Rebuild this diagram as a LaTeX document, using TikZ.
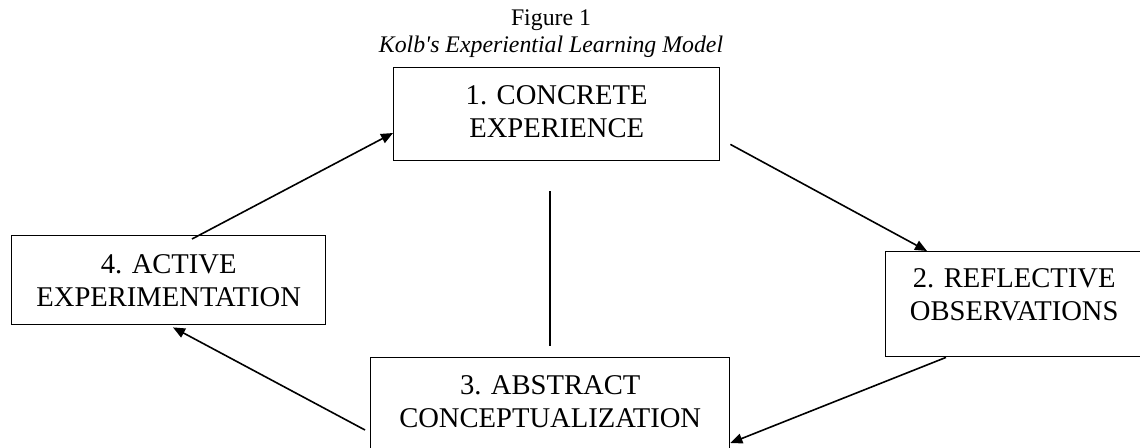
\documentclass[tikz,border=0pt]{standalone}
\usepackage{fontspec}
\setmainfont{Liberation Serif}
\usetikzlibrary{arrows.meta, positioning}

\begin{document}
\begin{tikzpicture}[
    x=1pt, y=-1pt,
    stage/.style={rectangle, draw, line width=1.4pt, inner sep=4pt, align=center, anchor=north west, font=\fontsize{28.6}{33}\selectfont},
    cycarrow/.style={-{Triangle[length=12pt,width=10pt]}, line width=1.6pt},
    link/.style={line width=1.6pt}
]
\clip (0,0) rectangle (1140,447);

\node[anchor=north, inner sep=0pt, align=center, font=\fontsize{23.8}{26.5}\selectfont] (title) at (551,10) {Figure 1\\\textit{Kolb\textquotesingle s Experiential Learning Model}};

\node[stage, minimum width=326pt, minimum height=93pt, text depth=5pt] (cexp) at (393,67) {1. CONCRETE\\EXPERIENCE};
\node[stage, minimum width=257pt, minimum height=105pt, text depth=19pt] (refl) at (885,251) {2. REFLECTIVE\\OBSERVATIONS};
\node[stage, minimum width=359pt, minimum height=95pt, text depth=8pt] (abst) at (370,357) {3. ABSTRACT\\CONCEPTUALIZATION};
\node[stage, minimum width=314pt, minimum height=89pt] (acte) at (11,235) {4. ACTIVE\\EXPERIMENTATION};

\draw[cycarrow] ([xshift=10pt,yshift=17pt]cexp.south east) -- ([xshift=42pt]refl.north west);
\draw[cycarrow] ([xshift=61pt]refl.south west) -- ([yshift=-86pt]abst.north east);
\draw[cycarrow] ([xshift=-5pt,yshift=-73pt]abst.north west) -- ([xshift=162pt,yshift=-2pt]acte.south west);
\draw[cycarrow] ([xshift=181pt,yshift=-4pt]acte.north west) -- ([yshift=-66pt]cexp.north west);
\draw[link] ([xshift=157pt,yshift=-30pt]cexp.south west) -- ([xshift=180pt,yshift=11pt]abst.north west);
\end{tikzpicture}
\end{document}
